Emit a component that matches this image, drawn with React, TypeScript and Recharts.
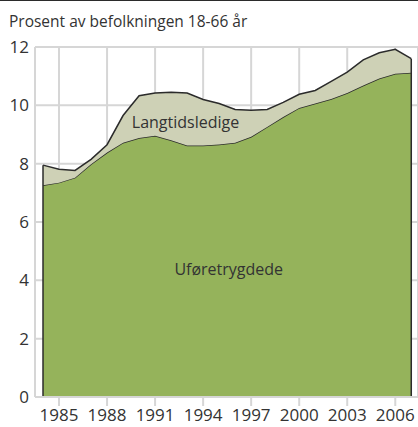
import { AreaChart, Area, XAxis, YAxis, CartesianGrid, ReferenceLine, ReferenceDot } from "recharts";

const years = [
  1984, 1985, 1986, 1987, 1988, 1989, 1990, 1991, 1992, 1993, 1994, 1995,
  1996, 1997, 1998, 1999, 2000, 2001, 2002, 2003, 2004, 2005, 2006, 2007,
];
// uføretrygdede, prosent av befolkningen 18-66 år
const uforetrygdede = [
  7.26, 7.35, 7.52, 7.98, 8.38, 8.72, 8.88, 8.96, 8.8, 8.62, 8.62, 8.66,
  8.72, 8.92, 9.26, 9.6, 9.91, 10.06, 10.22, 10.42, 10.68, 10.92, 11.08, 11.12,
];
// langtidsledige, stablet oppå
const langtidsledige = [
  0.69, 0.46, 0.25, 0.17, 0.27, 0.93, 1.45, 1.46, 1.65, 1.8, 1.58, 1.4,
  1.14, 0.91, 0.6, 0.5, 0.47, 0.45, 0.6, 0.72, 0.88, 0.88, 0.84, 0.48,
];
const xTicks = [1985, 1988, 1991, 1994, 1997, 2000, 2003, 2006];
const yTicks = [0, 2, 4, 6, 8, 10, 12];

const data = years.map((year, i) => ({
  year,
  ufor: uforetrygdede[i],
  lang: langtidsledige[i],
}));

const font = "'Open Sans', sans-serif";
const textColor = "#333333";
const grid = "#d6d6d6";
const outline = "#2b2b2b";

const first = years[0];
const last = years[years.length - 1];
const firstTotal = uforetrygdede[0] + langtidsledige[0];
const lastTotal = uforetrygdede[years.length - 1] + langtidsledige[years.length - 1];

export default function App() {
  return (
    <div style={{ position: "absolute", left: 0, top: 0, width: 418, height: 427, background: "#fff", fontFamily: font, overflow: "hidden" }}>
      <div style={{ position: "absolute", left: 0, top: 0, width: 418, height: 1, background: outline }} />
      <div style={{ position: "absolute", left: 9, top: 10, fontSize: 15.5, color: textColor, whiteSpace: "nowrap" }}>
        Prosent av befolkningen 18-66 år
      </div>
      <AreaChart width={418} height={427} data={data} margin={{ top: 47, right: 0, left: 0, bottom: 0 }}>
        <CartesianGrid stroke={grid} strokeWidth={2} />
        <XAxis
          dataKey="year"
          type="number"
          domain={[1983.5, 2007.42]}
          ticks={xTicks}
          allowDataOverflow
          height={30}
          axisLine={{ stroke: grid, strokeWidth: 2 }}
          tickLine={{ stroke: grid, strokeWidth: 2 }}
          tickSize={9}
          tickMargin={3}
          tick={{ fill: textColor, fontSize: 17, fontFamily: font }}
        />
        <YAxis
          domain={[0, 12]}
          ticks={yTicks}
          width={35}
          axisLine={{ stroke: grid, strokeWidth: 2 }}
          tickLine={false}
          tickSize={0}
          tickMargin={6}
          tick={{ fill: textColor, fontSize: 17, fontFamily: font }}
        />
        <Area
          type="linear"
          dataKey="ufor"
          stackId="1"
          fill="#95b35b"
          fillOpacity={1}
          stroke={outline}
          strokeWidth={1.5}
          isAnimationActive={false}
        />
        <Area
          type="linear"
          dataKey="lang"
          stackId="1"
          fill="#ced1b6"
          fillOpacity={1}
          stroke={outline}
          strokeWidth={1.5}
          isAnimationActive={false}
        />
        <ReferenceLine segment={[{ x: first, y: 0 }, { x: first, y: firstTotal }]} stroke={outline} strokeWidth={1.5} />
        <ReferenceLine segment={[{ x: last, y: 0 }, { x: last, y: lastTotal }]} stroke={outline} strokeWidth={1.5} />
        <ReferenceLine segment={[{ x: first, y: 0 }, { x: last, y: 0 }]} stroke={outline} strokeWidth={1.5} />
        <ReferenceDot
          x={1992.9}
          y={9.43}
          r={0}
          stroke="none"
          fill="none"
          label={{ value: "Langtidsledige", position: "center", fill: textColor, fontSize: 16, fontFamily: font }}
        />
        <ReferenceDot
          x={1995.6}
          y={4.38}
          r={0}
          stroke="none"
          fill="none"
          label={{ value: "Uføretrygdede", position: "center", fill: textColor, fontSize: 16, fontFamily: font }}
        />
      </AreaChart>
    </div>
  );
}
